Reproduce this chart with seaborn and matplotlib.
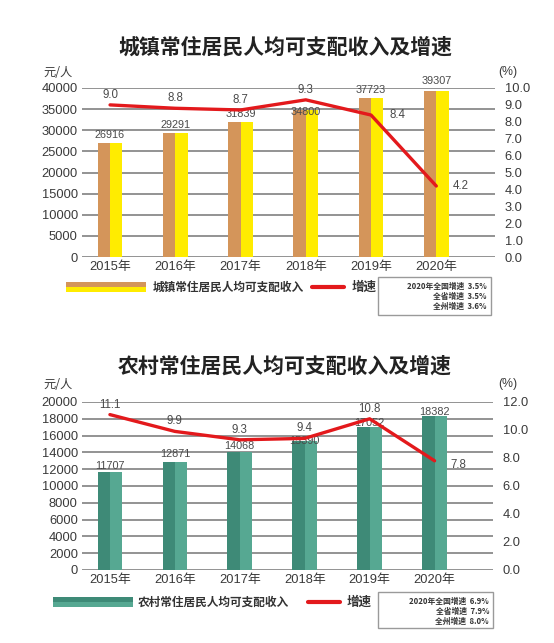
import numpy as np
import pandas as pd
import matplotlib
matplotlib.use('Agg')
import matplotlib.pyplot as plt
from matplotlib.lines import Line2D
from matplotlib.patches import Rectangle
import seaborn as sns

# data
years = ['2015年', '2016年', '2017年', '2018年', '2019年', '2020年']
urban_income = [26916, 29291, 31839, 34800, 37723, 39307]
urban_growth = [9.0, 8.8, 8.7, 9.3, 8.4, 4.2]
rural_income = [11707, 12871, 14068, 15390, 17052, 18382]
rural_growth = [11.1, 9.9, 9.3, 9.4, 10.8, 7.8]

urban_title = '城镇常住居民人均可支配收入及增速'
rural_title = '农村常住居民人均可支配收入及增速'
urban_legend = '城镇常住居民人均可支配收入'
rural_legend = '农村常住居民人均可支配收入'
urban_note = ['2020年全国增速  3.5%', '全省增速  3.5%', '全州增速  3.6%']
rural_note = ['2020年全国增速  6.9%', '全省增速  7.9%', '全州增速  8.0%']

sns.set_theme(style='white')
plt.rcParams['font.family'] = ['Liberation Sans', 'Noto Sans CJK SC', 'DejaVu Sans']

W, H = 554, 643
fig = plt.figure(figsize=(W / 100, H / 100), dpi=100)
fig.patch.set_facecolor('white')

CJK = ['Noto Sans CJK SC', 'DejaVu Sans']
GRID = '#8a8a8a'
TXT = '#3a3a3a'
RED = '#e3191c'


def fx(px):
    return px / W


def fy(px):
    return 1 - px / H


def panel(top, bottom, right, income, growth, ymax, ystep, gmax, gstep,
          colors, bar_off, grow_off, title, title_y, unit_y, legend_y,
          legend_x, leg_text, note, box):
    ax = fig.add_axes([fx(82), fy(bottom), fx(right - 82), (bottom - top) / H])
    df = pd.DataFrame({
        'year': years * 2,
        'value': income * 2,
        'half': ['a'] * 6 + ['b'] * 6,
    })
    sns.barplot(data=df, x='year', y='value', hue='half', palette=colors,
                width=0.38, gap=0, dodge=True, legend=False, saturation=1,
                linewidth=0, ax=ax, zorder=3)
    ax.set_ylim(0, ymax)
    ax.set_yticks(np.arange(0, ymax + 1, ystep))
    ax.set_xlim(-0.43, 5.9)
    ax.yaxis.grid(True, color=GRID, linewidth=1.3, zorder=0)
    ax.set_axisbelow(True)
    for s in ax.spines.values():
        s.set_visible(False)
    ax.set_xlabel('')
    ax.set_ylabel('')
    ax.tick_params(axis='y', length=0, pad=3, labelsize=9.3, labelcolor=TXT)
    ax.tick_params(axis='x', length=0, pad=3, labelsize=9.3, labelcolor=TXT)
    for lab in ax.get_xticklabels():
        lab.set_fontfamily(['Liberation Sans', 'Noto Sans CJK SC'])

    for i, v in enumerate(income):
        ax.annotate(str(v), (i, v), xytext=(0, bar_off[i] * 0.72),
                    textcoords='offset points', ha='center', va='center',
                    fontsize=7.8, color='#4a4a4a', zorder=6)

    ax2 = ax.twinx()
    sns.lineplot(x=list(range(6)), y=growth, color=RED, linewidth=2.4,
                 ax=ax2, zorder=5)
    ax2.set_ylim(0, gmax)
    ax2.set_yticks(np.arange(0, gmax + 0.01, gstep))
    ax2.set_yticklabels([f'{t:.1f}' for t in np.arange(0, gmax + 0.01, gstep)])
    ax2.set_xlim(-0.43, 5.9)
    for s in ax2.spines.values():
        s.set_visible(False)
    ax2.grid(False)
    ax2.tick_params(axis='y', length=0, pad=7, labelsize=9.3, labelcolor=TXT)
    for i, g in enumerate(growth):
        dx, dy = grow_off[i]
        ax2.annotate(f'{g:.1f}', (i, g), xytext=(dx * 0.72, dy * 0.72),
                     textcoords='offset points', ha='center', va='center',
                     fontsize=8.3, color='#4a4a4a', zorder=6)

    fig.text(fx(285), fy(title_y), title, ha='center', va='center',
             fontsize=15, fontweight='heavy', family=CJK, color='#222222')
    fig.text(fx(58), fy(unit_y), '元/人', ha='center', va='center',
             fontsize=8.8, family=CJK, color=TXT)
    fig.text(fx(508), fy(unit_y), '(%)', ha='center', va='center',
             fontsize=8.8, color=TXT)

    # legend row
    x0, x1, tx, lx0, lx1, sx = legend_x
    fig.patches.append(Rectangle((fx(x0), fy(legend_y)), fx(x1 - x0), 5 / H,
                                 transform=fig.transFigure, facecolor=colors[0],
                                 edgecolor='none'))
    fig.patches.append(Rectangle((fx(x0), fy(legend_y + 5)), fx(x1 - x0), 5 / H,
                                 transform=fig.transFigure, facecolor=colors[1],
                                 edgecolor='none'))
    fig.text(fx(tx), fy(legend_y), leg_text, ha='left', va='center',
             fontsize=8.4, fontweight='bold', family=CJK, color='#333333')
    fig.lines.append(Line2D([fx(lx0), fx(lx1)], [fy(legend_y), fy(legend_y)],
                            transform=fig.transFigure, color=RED, linewidth=3))
    fig.text(fx(sx), fy(legend_y), '增速', ha='left', va='center',
             fontsize=9, fontweight='bold', family=CJK, color='#333333')
    bx0, by0, bx1, by1 = box
    fig.patches.append(Rectangle((fx(bx0), fy(by1)), fx(bx1 - bx0), (by1 - by0) / H,
                                 transform=fig.transFigure, facecolor='white',
                                 edgecolor='#9a9a9a', linewidth=1))
    for k, line in enumerate(note):
        fig.text(fx(bx1 - 4), fy(by0 + 9 + 10 * k), line, ha='right', va='center',
                 fontsize=5.6, fontweight='bold', family=CJK, color='#333333')
    return ax, ax2


panel(88, 257, 495, urban_income, urban_growth, 40000, 5000, 10, 1,
      ['#d4955a', '#ffec00'],
      [8, 8, 8, -2, 8, 10],
      [(0, 10), (0, 10), (0, 10), (0, 10), (26, 0), (24, 0)],
      urban_title, 47, 72, 287, (66, 146, 153, 312, 344, 352), urban_legend,
      urban_note, (378, 277, 491, 315))

panel(402, 570, 493, rural_income, rural_growth, 20000, 2000, 12, 2,
      ['#3e8a77', '#56a892'],
      [6, 8, 6, 0, 4, 4],
      [(0, 10), (0, 10), (0, 10), (0, 10), (0, 10), (24, -4)],
      rural_title, 366, 384, 602, (53, 133, 138, 308, 340, 347), rural_legend,
      rural_note, (378, 592, 493, 628))

fig.savefig('out.png', dpi=100, facecolor='white')
